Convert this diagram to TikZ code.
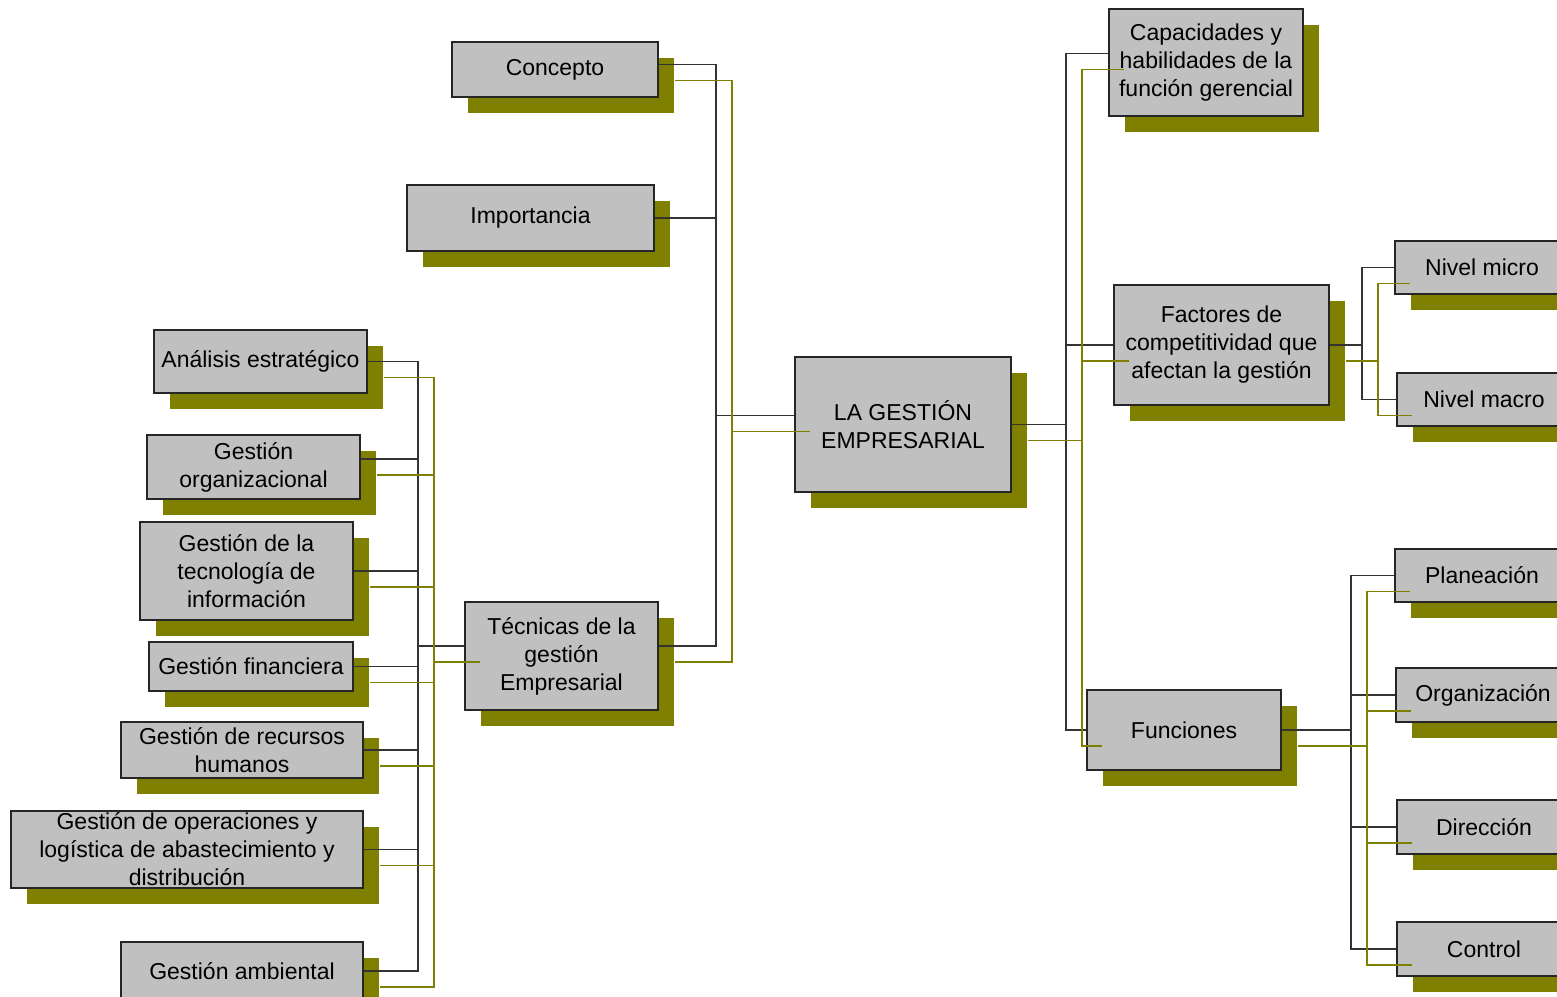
\documentclass[tikz,border=0pt]{standalone}
\usepackage{fontspec}
\setmainfont{Liberation Sans}
\usetikzlibrary{shadows}

\definecolor{boxgray}{HTML}{C0C0C0}
\definecolor{shadeolive}{HTML}{808000}

\tikzset{
  box/.style={draw=black!85, line width=1.5pt, fill=boxgray, inner sep=0pt, align=center,
    font=\fontsize{23}{28}\selectfont,
    drop shadow={shadow xshift=16pt, shadow yshift=-16pt, fill=shadeolive, opacity=1}},
  boxsize/.style 2 args={minimum width=#1pt, minimum height=#2pt},
  darklink/.style={draw=black!80, line width=1.3pt},
  olivelink/.style={draw=shadeolive, line width=1.3pt, transform canvas={xshift=16pt, yshift=-16pt}}
}

\begin{document}
\begin{tikzpicture}[x=1pt, y=-1pt]
	\useasboundingbox (0,0) rectangle (1557,996);
	\clip (0,0) rectangle (1557,996);

	% centro
	\node[box, boxsize={216}{135}] (lg) at (903,424.5) {LA GESTIÓN\\EMPRESARIAL};

	% rama izquierda
	\node[box, boxsize={206}{55}] (concepto) at (555,69.5) {Concepto};
	\node[box, boxsize={247}{66}] (importancia) at (530.5,218) {Importancia};
	\node[box, boxsize={193}{108}] (tecnicas) at (561.5,656) {Técnicas de la\\gestión\\Empresarial};

	\node[box, boxsize={213}{63}] (analisis) at (260.5,361.5) {Análisis estratégico};
	\node[box, boxsize={213}{64}] (gorg) at (253.5,467) {Gestión\\organizacional};
	\node[box, boxsize={213}{98}] (gtec) at (246.5,571) {Gestión de la\\tecnología de\\información};
	\node[box, boxsize={204}{49}] (gfin) at (251,666.5) {Gestión financiera};
	\node[box, boxsize={242}{56}] (grrhh) at (242,750) {Gestión de recursos\\humanos};
	\node[box, boxsize={352}{77}] (goper) at (187,849.5) {Gestión de operaciones y\\logística de abastecimiento y\\distribución};
	\node[box, boxsize={242}{58}] (gamb) at (242,971) {Gestión ambiental};

	% rama derecha
	\node[box, boxsize={194}{107}] (capac) at (1206,62.5) {Capacidades y\\habilidades de la\\función gerencial};
	\node[box, boxsize={215}{120}] (factores) at (1221.5,345) {Factores de\\competitividad que\\afectan la gestión};
	\node[box, boxsize={194}{80}] (funciones) at (1184,730) {Funciones};

	\node[box, boxsize={174}{53}] (nmicro) at (1482,267.5) {Nivel micro};
	\node[box, boxsize={174}{53}] (nmacro) at (1484,399.5) {Nivel macro};

	\node[box, boxsize={174}{53}] (planeacion) at (1482,575.5) {Planeación};
	\node[box, boxsize={174}{54}] (organizacion) at (1483,695) {Organización};
	\node[box, boxsize={174}{54}] (direccion) at (1484,827) {Dirección};
	\node[box, boxsize={174}{54}] (control) at (1484,949) {Control};

	% ejes de las llaves
	\coordinate (busA) at (716,0);
	\coordinate (busB) at (418,0);
	\coordinate (busC) at (1066,0);
	\coordinate (busD) at (1362,0);
	\coordinate (busE) at (1351,0);

	% puntos de enganche desplazados
	\coordinate (concE) at ([yshift=5pt]concepto.east);
	\coordinate (tecE) at ([yshift=10pt]tecnicas.east);
	\coordinate (tecW) at ([yshift=10pt]tecnicas.west);
	\coordinate (lgW) at ([yshift=9pt]lg.west);
	\coordinate (capW) at ([yshift=9pt]capac.west);
	\coordinate (gorgE) at ([yshift=8pt]gorg.east);

	\draw[darklink] (importancia.east) -- (importancia.east -| busA);
	\foreach \lk in {darklink, olivelink} {
		\draw[\lk] (concE) -| (busA |- tecE) -- (tecE);
		\draw[\lk] (lgW) -- (lgW -| busA);

		\draw[\lk] (analisis.east) -| (busB |- gamb.east) -- (gamb.east);
		\foreach \hijo in {gorgE, gtec.east, gfin.east, grrhh.east, goper.east}
			\draw[\lk] (\hijo) -- (\hijo -| busB);
		\draw[\lk] (tecW) -- (tecW -| busB);

		\draw[\lk] (capW) -| (busC |- funciones.west) -- (funciones.west);
		\draw[\lk] (factores.west) -- (factores.west -| busC);
		\draw[\lk] (lg.east) -- (lg.east -| busC);

		\draw[\lk] (nmicro.west) -| (busD |- nmacro.west) -- (nmacro.west);
		\draw[\lk] (factores.east) -- (factores.east -| busD);

		\draw[\lk] (planeacion.west) -| (busE |- control.west) -- (control.west);
		\draw[\lk] (organizacion.west) -- (organizacion.west -| busE);
		\draw[\lk] (direccion.west) -- (direccion.west -| busE);
		\draw[\lk] (funciones.east) -- (funciones.east -| busE);
	}
\end{tikzpicture}
\end{document}
